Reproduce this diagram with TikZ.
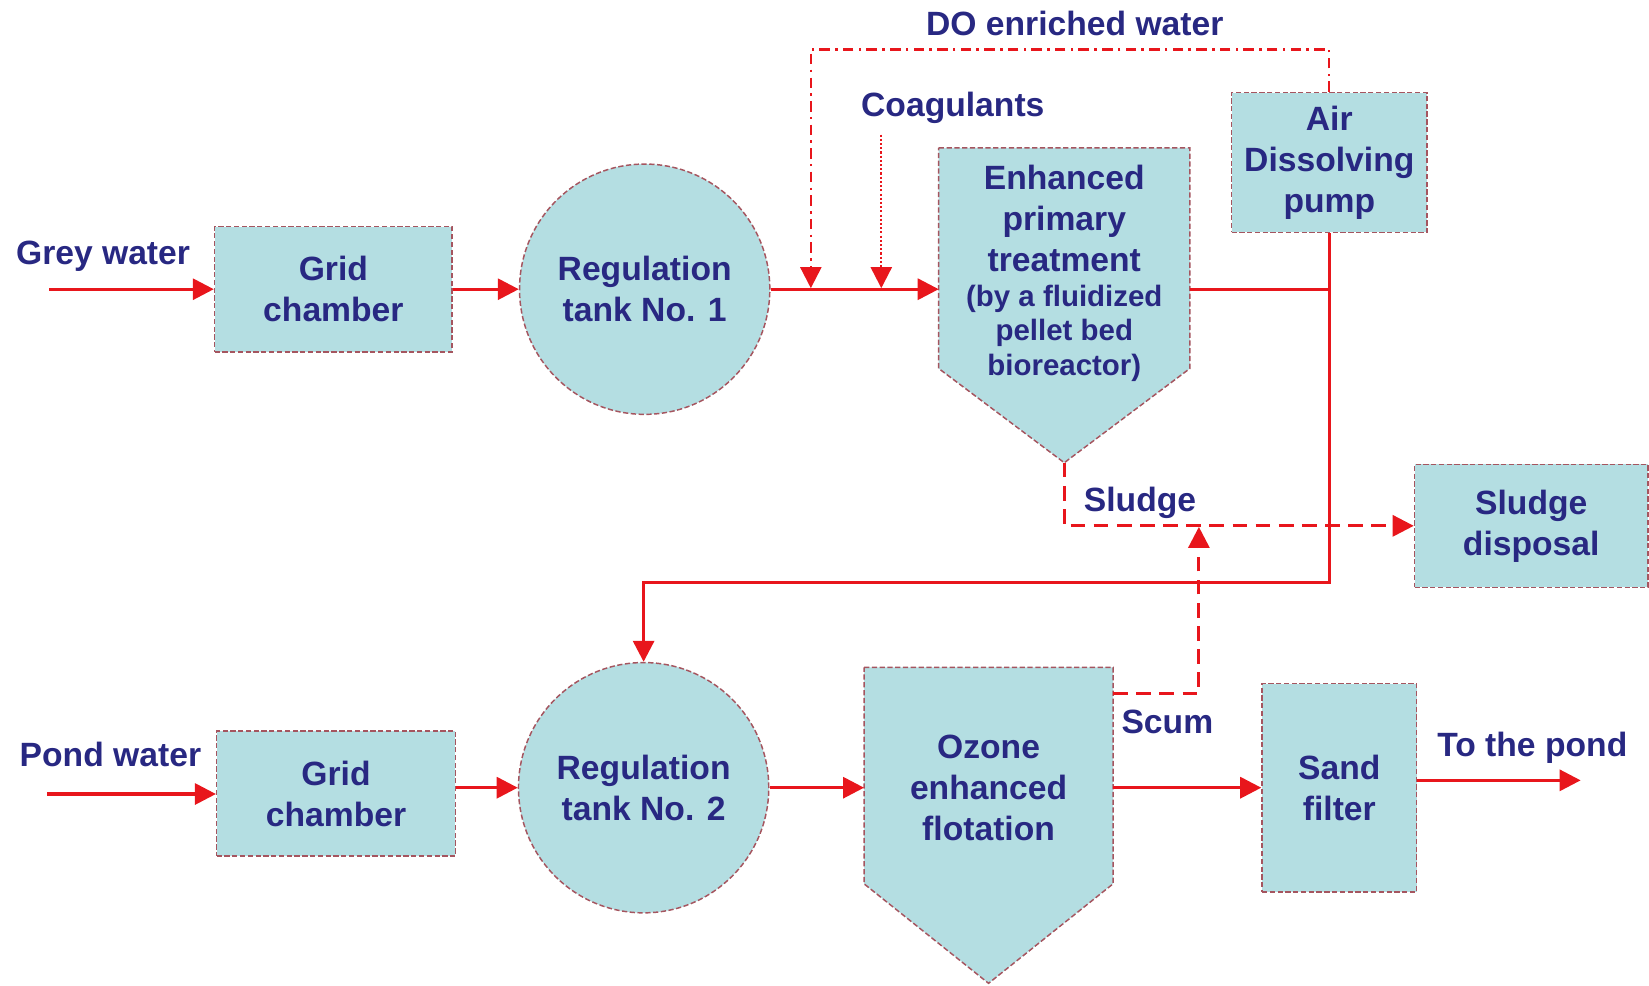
\documentclass[tikz,border=0pt]{standalone}
\usepackage{fontspec}
\setmainfont{Liberation Sans}
\usetikzlibrary{arrows.meta,calc}
\definecolor{boxfill}{RGB}{180,222,226}
\definecolor{boxline}{RGB}{165,85,95}
\definecolor{txt}{RGB}{40,40,130}
\definecolor{flow}{RGB}{232,22,28}
\begin{document}
\begin{tikzpicture}[x=0.5pt,y=-0.5pt,
  shapeline/.style={draw=boxline, fill=boxfill, line width=0.7pt, dash pattern=on 2.5pt off 1.2pt},
  bigtext/.style={font=\bfseries\fontsize{16}{19.5}\selectfont, text=txt, align=center, inner sep=0pt},
  smalltext/.style={font=\bfseries\fontsize{14}{16.5}\selectfont, text=txt, align=center, inner sep=0pt},
  box/.style={shapeline, rectangle, bigtext},
  tank/.style={shapeline, circle, bigtext, minimum size=119pt},
  body/.style={inner sep=0pt, rectangle},
  flowline/.style={draw=flow, line width=1.5pt},
  tip/.style={-{Triangle[length=10pt,width=10pt]}},
  arr/.style={flowline, tip},
  doline/.style={draw=flow, line width=1.1pt, dash pattern=on 5pt off 2.5pt on 1.2pt off 2.5pt, tip},
  coagline/.style={draw=flow, line width=1.1pt, dash pattern=on 1pt off 1pt, tip},
  wasteline/.style={draw=flow, line width=1.4pt, dash pattern=on 7pt off 4pt, tip}
]
\useasboundingbox (0,0) rectangle (1568,937);

% ---------- top row ----------
\node[box, minimum width=113pt, minimum height=59.5pt] (gc1) at (317,275) {Grid\\chamber};
\node[tank] (rt1) at (613,275) {Regulation\\tank No. 1};

\node[body, minimum width=119pt, minimum height=104.5pt] (ept) at (1012,245.5) {};
\coordinate (epttip) at (1012,440);
\filldraw[shapeline] (ept.north west) -- (ept.north east) -- (ept.south east) -- (epttip) -- (ept.south west) -- cycle;
\node[bigtext] (eptt) at (1012,207.5) {Enhanced\\primary\\treatment};
\node[smalltext] (epts) at (1012,317) {(by a fluidized\\pellet bed\\bioreactor)};

\node[box, minimum width=93pt, minimum height=66.5pt] (adp) at (1264,154.5) {Air\\Dissolving\\pump};
\node[box, minimum width=111pt, minimum height=58.5pt] (sd) at (1456,500) {Sludge\\disposal};

% ---------- bottom row ----------
\node[box, minimum width=113.5pt, minimum height=59.5pt] (gc2) at (319.5,754.5) {Grid\\chamber};
\node[tank] (rt2) at (612,749) {Regulation\\tank No. 2};

\node[body, minimum width=118pt, minimum height=102.5pt] (oef) at (940,737.5) {};
\coordinate (oeftip) at (940,935);
\filldraw[shapeline] (oef.north west) -- (oef.north east) -- (oef.south east) -- (oeftip) -- (oef.south west) -- cycle;
\node[bigtext] (oeft) at (940,749) {Ozone\\enhanced\\flotation};

\node[box, minimum width=73.5pt, minimum height=99pt] (sf) at (1273.5,749) {Sand\\filter};

% ---------- labels ----------
\node[bigtext] (greyw) at (98,244) {Grey water};
\node[bigtext] (pondw) at (105,717) {Pond water};
\node[bigtext] (dolbl) at (1022,22) {DO enriched water};
\node[bigtext] (coag) at (906,103) {Coagulants};
\node[bigtext] (sludge) at (1084,478) {Sludge};
\node[bigtext] (scum) at (1110,686) {Scum};
\node[bigtext] (topond) at (1457,711) {To the pond};

% ---------- coordinates ----------
\coordinate (gin) at (47,275);
\coordinate (pin) at (45,755);
\coordinate (dotop) at (771,47);
\coordinate (doin) at (771,274);
\coordinate (coagtop) at (838,128);
\coordinate (coagin) at (838,274);
\coordinate (j) at (1265,275);
\coordinate (back) at (612,554);
\coordinate (scumtip) at (1140,501);
\coordinate (pout) at (1503,742);

% ---------- connectors ----------
\draw[arr] (gin) -- (gin -| gc1.west);
\draw[arr] (gc1.east) -- (rt1.west);
\draw[arr] (rt1.east) -- (rt1.east -| ept.west);
\draw[doline] (adp.north) |- (dotop) -- (doin);
\draw[coagline] (coagtop) -- (coagin);
\draw[flowline] (j -| ept.east) -- (j);
\draw[arr] (adp.south) -- (adp.south |- back) -| (rt2.north);
\draw[wasteline] (epttip) |- (sd.west);
\draw[wasteline] ($(oef.north east)+(0,25)$) -| (scumtip);

\draw[arr] (pin) -- (pin -| gc2.west);
\draw[arr] (rt2.west -| gc2.east) -- (rt2.west);
\draw[arr] (rt2.east) -- (rt2.east -| oef.west);
\draw[arr] (sf.west -| oef.east) -- (sf.west);
\draw[arr] (pout -| sf.east) -- (pout);
\end{tikzpicture}
\end{document}
